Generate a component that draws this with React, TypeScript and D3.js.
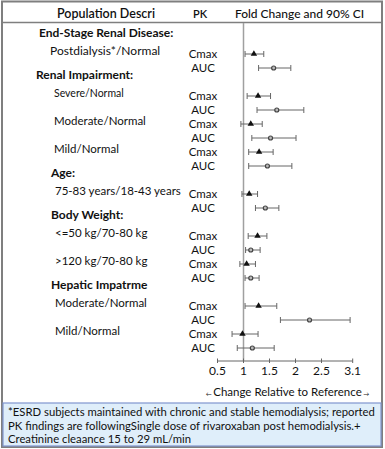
import * as d3 from "d3";

const groups = ["End-Stage Renal Disease:", "Renal Impairment:", "Age:", "Body Weight:", "Hepatic Impatrme"];
const subgroups = [
  "Postdialysis*/Normal",
  "Severe/Normal",
  "Moderate/Normal",
  "Mild/Normal",
  "75-83 years/18-43 years",
  "<=50 kg/70-80 kg",
  ">120 kg/70-80 kg",
  "Moderate/Normal",
  "Mild/Normal",
];
const subgroupOf = [0, 1, 1, 1, 2, 3, 3, 4, 4];
const cmaxEst = [1.2, 1.28, 1.14, 1.3, 1.11, 1.27, 1.06, 1.29, 0.98];
const cmaxLo = [1.03, 1.07, 0.95, 1.1, 0.97, 1.09, 0.93, 1.03, 0.78];
const cmaxHi = [1.39, 1.52, 1.36, 1.57, 1.27, 1.45, 1.23, 1.64, 1.28];
const aucEst = [1.58, 1.64, 1.52, 1.46, 1.42, 1.14, 1.14, 2.27, 1.17];
const aucLo = [1.29, 1.26, 1.16, 1.1, 1.23, 1.04, 1.03, 1.71, 0.88];
const aucHi = [1.91, 2.16, 2.01, 1.93, 1.68, 1.32, 1.3, 3.05, 1.59];
const xTicks = [0.5, 1, 1.5, 2, 2.5, 3.1];
const footnote = [
  "*ESRD subjects maintained with chronic and stable hemodialysis; reported",
  "PK findings are followingSingle dose of rivaroxaban post hemodialysis.+",
  "Creatinine cleaance 15 to 29 mL/min",
];

const W = 385;
const H = 449;
const font = "Lato, 'Open Sans', sans-serif";

export default function App() {
  const x = d3.scaleLinear().domain([0.5, 3.1]).range([217.5, 352.7]);

  // slot index per subgroup row (Cmax), with a blank slot between groups
  const slots: number[] = [];
  let s = 0;
  subgroups.forEach((_, i) => {
    if (i > 0 && subgroupOf[i] !== subgroupOf[i - 1]) s += 1;
    slots.push(s);
    s += 2;
  });
  const y = d3.scaleLinear().domain([0, 21]).range([54, 348]);
  const firstOfGroup = groups.map((_, g) => slots[subgroupOf.indexOf(g)]);

  const rows = subgroups.flatMap((_, i) => [
    { pk: "Cmax", slot: slots[i], est: cmaxEst[i], lo: cmaxLo[i], hi: cmaxHi[i] },
    { pk: "AUC", slot: slots[i] + 1, est: aucEst[i], lo: aucLo[i], hi: aucHi[i] },
  ]);

  const tri = d3.symbol().type(d3.symbolTriangle).size(18)();
  const axisY = 361;

  return (
    <svg
      width={W}
      height={H}
      viewBox={`0 0 ${W} ${H}`}
      style={{ position: "absolute", left: 0, top: 0, background: "#fff" }}
      fontFamily={font}
    >
      <rect x={2} y={1.5} width={380} height={445.5} fill="#fff" stroke="#7f7f7f" strokeWidth={2} />
      <line x1={2} x2={382} y1={22.5} y2={22.5} stroke="#7f7f7f" strokeWidth={1.5} />

      <g fontSize={12.5} fontWeight={600} fill="#111" textAnchor="middle">
        <text x={106} y={17.5}>Population Descri</text>
        <text x={200} y={17.5} fontSize={11}>PK</text>
        <text x={299.5} y={17.5} fontWeight={500} fontSize={12}>Fold Change and 90% CI</text>
      </g>

      {groups.map((g, i) => (
        <text
          key={g}
          x={i < 2 ? (i === 0 ? 39 : 36) : 51}
          y={y(firstOfGroup[i]) - 17}
          fontSize={12}
          fontWeight={700}
          fill="#111"
        >
          {g}
        </text>
      ))}
      {subgroups.map((t, i) => (
        <text
          key={i}
          x={i === 0 ? 50 : i < 4 ? 54 : 55}
          y={y(slots[i]) + 1}
          fontSize={i === 0 ? 12 : i === 1 ? 10.5 : 11.5}
          fill="#111"
        >
          {t}
        </text>
      ))}

      <line x1={x(1)} x2={x(1)} y1={23} y2={axisY} stroke="#a0a0a0" strokeWidth={1.5} />

      {rows.map((r, i) => (
        <g key={i}>
          <text x={203} y={y(r.slot) + 4} fontSize={11.5} textAnchor="middle" fill="#111">
            {r.pk}
          </text>
          <line x1={x(r.lo)} x2={x(r.hi)} y1={y(r.slot)} y2={y(r.slot)} stroke="#666" strokeWidth={1} />
          <line x1={x(r.lo)} x2={x(r.lo)} y1={y(r.slot) - 3} y2={y(r.slot) + 3} stroke="#666" strokeWidth={1} />
          <line x1={x(r.hi)} x2={x(r.hi)} y1={y(r.slot) - 3} y2={y(r.slot) + 3} stroke="#666" strokeWidth={1} />
          {r.pk === "Cmax" ? (
            <path d={tri ?? ""} transform={`translate(${x(r.est)},${y(r.slot)})`} fill="#111" />
          ) : (
            <circle cx={x(r.est)} cy={y(r.slot)} r={2} fill="#bbb" stroke="#444" strokeWidth={1.2} />
          )}
        </g>
      ))}

      <line x1={x(0.5)} x2={x(3.1)} y1={axisY} y2={axisY} stroke="#666" strokeWidth={1} />
      {xTicks.map((t) => (
        <g key={t}>
          <line x1={x(t)} x2={x(t)} y1={axisY - 2.5} y2={axisY + 2} stroke="#666" strokeWidth={1} />
          <text x={x(t)} y={375} fontSize={12} textAnchor="middle" fill="#111">
            {t}
          </text>
        </g>
      ))}
      <text x={287.5} y={395.5} fontSize={11.5} textAnchor="middle" fill="#111">
        <tspan fontSize={6}>{"\u2190 "}</tspan>
        Change Relative to Reference
        <tspan fontSize={6}>{" \u2192"}</tspan>
      </text>

      <rect x={3} y={403} width={378} height={43} fill="#dfeefa" stroke="#8096cf" strokeWidth={1.2} />
      {footnote.map((l, i) => (
        <text key={i} x={8} y={416 + i * 13.7} fontSize={11.3} fill="#111">
          {l}
        </text>
      ))}
    </svg>
  );
}
